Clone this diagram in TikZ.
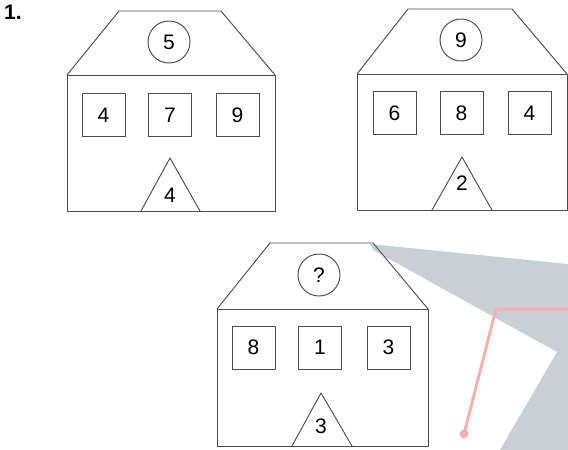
\documentclass[tikz,border=0pt]{standalone}
\usepackage{fontspec}
\setmainfont{Liberation Sans}
\definecolor{wmgray}{RGB}{200,207,213}
\definecolor{wmred}{RGB}{247,176,176}
\begin{document}
\begin{tikzpicture}[x=1pt,y=-1pt,
  outline/.style={draw=black!70, line width=0.95pt, line join=round},
  win/.style={draw=black!70, line width=0.95pt, minimum size=43pt, inner sep=0pt, font=\fontsize{21}{21}\selectfont},
  ring/.style={circle, draw=black!70, line width=0.95pt, minimum size=42pt, inner sep=0pt, font=\fontsize{21}{21}\selectfont},
  lbl/.style={inner sep=0pt, font=\fontsize{21}{21}\selectfont}]
\useasboundingbox (0,0) rectangle (568,450);
% watermark
\fill[wmgray] (370,244) -- (568,264) -- (568,450) -- (500,450) -- (557,352) -- (373,250) -- cycle;
\coordinate (r1) at (568,309);
\coordinate (r2) at (496,309);
\coordinate (r3) at (464,434);
\draw[wmred, line width=3pt] (r1) -- (r2) -- (r3);
\fill[wmred] (r3) circle (4.5);
% title
\node[inner sep=0pt, anchor=north west, font=\fontsize{21}{21}\selectfont\bfseries] (num) at (4,5) {1.};
% house 1
\draw[outline] (67,75) -- (119,11) -- (221,11) -- (275,75);
\draw[outline] (67,75) rectangle (275,211);
\node[ring] (c1) at (169,42) {5};
\node[win] (a1) at (103.5,115) {4};
\node[win] (b1) at (170,115) {7};
\node[win] (d1) at (237.5,115) {9};
\coordinate (t1a) at (141,211); \coordinate (t1b) at (170,158); \coordinate (t1c) at (200,211);
\draw[outline] (t1a) -- (t1b) -- (t1c);
\node[lbl] (t1) at (170,195) {4};
% house 2
\draw[outline] (357,74) -- (408,9) -- (512,9) -- (567,74);
\draw[outline] (357,74) rectangle (567,210);
\node[ring] (c2) at (461,40) {9};
\node[win] (a2) at (394.5,113) {6};
\node[win] (b2) at (461.5,113) {8};
\node[win] (d2) at (529.5,113) {4};
\coordinate (t2a) at (432,210); \coordinate (t2b) at (462,157); \coordinate (t2c) at (492,210);
\draw[outline] (t2a) -- (t2b) -- (t2c);
\node[lbl] (t2) at (462,183) {2};
% house 3
\draw[outline] (217,309) -- (270,243) -- (373,243) -- (428,309);
\draw[outline] (217,309) rectangle (428,446);
\node[ring] (c3) at (319,275) {?};
\node[win] (a3) at (253.5,347.5) {8};
\node[win] (b3) at (320,347.5) {1};
\node[win] (d3) at (388.5,347.5) {3};
\coordinate (t3a) at (292,446); \coordinate (t3b) at (321,393); \coordinate (t3c) at (352,446);
\draw[outline] (t3a) -- (t3b) -- (t3c);
\node[lbl] (t3) at (321,426) {3};
\end{tikzpicture}
\end{document}
